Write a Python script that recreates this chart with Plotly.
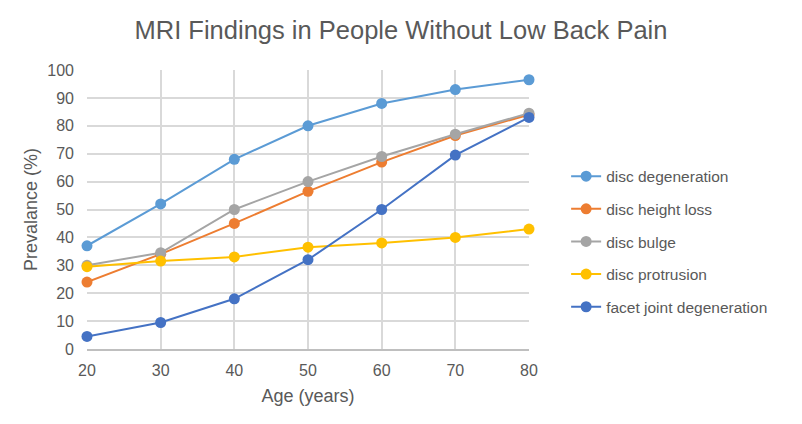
import plotly.graph_objects as go

ages = [20, 30, 40, 50, 60, 70, 80]
series_names = ["disc degeneration", "disc height loss", "disc bulge",
                "disc protrusion", "facet joint degeneration"]
disc_degeneration = [37, 52, 68, 80, 88, 93, 96.5]
disc_height_loss = [24, 34, 45, 56.5, 67, 76.5, 84]
disc_bulge = [30, 34.5, 50, 60, 69, 77, 84.5]
disc_protrusion = [29.5, 31.5, 33, 36.5, 38, 40, 43]
facet_joint_degeneration = [4.5, 9.5, 18, 32, 50, 69.5, 83]
colors = ["#5B9BD5", "#ED7D31", "#A5A5A5", "#FFC000", "#4472C4"]

all_values = [disc_degeneration, disc_height_loss, disc_bulge,
              disc_protrusion, facet_joint_degeneration]

fig = go.Figure()
for i, (name, vals, c) in enumerate(zip(series_names, all_values, colors)):
    fig.add_trace(go.Scatter(
        x=ages, y=vals, name=name, mode="lines+markers",
        line=dict(color=c, width=2),
        marker=dict(color=c, size=11),
        legendgroup=f"g{i}", cliponaxis=False,
    ))

font_family = "Liberation Sans, Arial, sans-serif"
fig.update_layout(
    width=802, height=424,
    margin=dict(l=87, r=273, t=70, b=75),
    paper_bgcolor="white", plot_bgcolor="white",
    title=dict(text="MRI Findings in People Without Low Back Pain",
               x=0.5, xanchor="center", y=0.93, yanchor="middle",
               font=dict(family=font_family, size=25.5, color="#595959")),
    font=dict(family=font_family, color="#595959"),
    legend=dict(x=1.084, xanchor="left", y=0.385, yanchor="middle",
                xref="paper", yref="paper",
                font=dict(size=15.5, color="#595959"),
                tracegroupgap=9.5, itemwidth=30),
    xaxis=dict(range=[20, 80], tickvals=ages, showgrid=True,
               gridcolor="#D9D9D9", gridwidth=2, showline=True,
               linecolor="#BFBFBF", linewidth=2, zeroline=False,
               tickfont=dict(size=16, color="#595959"), ticks="",
               ticklabelstandoff=6,
               title=dict(text="Age (years)", font=dict(size=18, color="#595959"),
                          standoff=11)),
    yaxis=dict(range=[0, 100], dtick=10, showgrid=True,
               gridcolor="#D9D9D9", gridwidth=2, zeroline=False,
               showline=False,
               tickfont=dict(size=16, color="#595959"), ticks="",
               ticklabelstandoff=12,
               title=dict(text="Prevalance (%)", font=dict(size=18, color="#595959"),
                          standoff=4)),
)

fig.write_html("out.html")
